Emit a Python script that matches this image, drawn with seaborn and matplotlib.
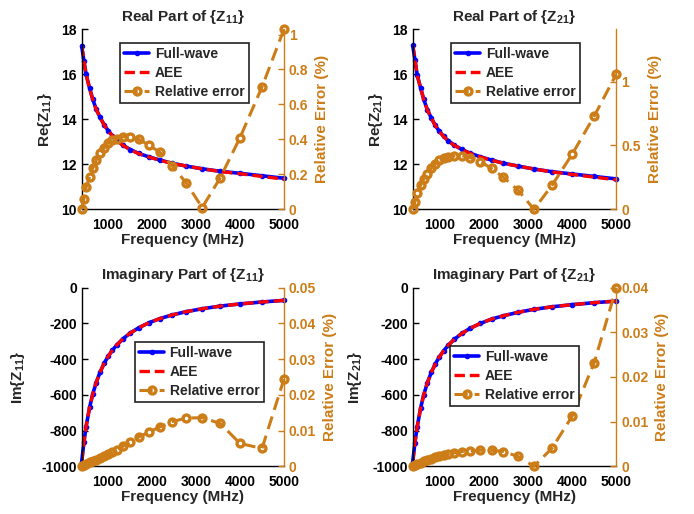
import matplotlib
matplotlib.use("Agg")
import matplotlib.pyplot as plt
import seaborn as sns
from matplotlib.ticker import FuncFormatter
from matplotlib.lines import Line2D

# ---------------- data ----------------
freq = [400, 450, 500, 580, 650, 730, 820, 910, 1000, 1100, 1200, 1340, 1510,
        1700, 1930, 2180, 2450, 2780, 3140, 3550, 4000, 4500, 5000]

re_z11_fw = [17.26, 16.60, 16.00, 15.38, 14.90, 14.45, 14.08, 13.76, 13.50, 13.27,
             13.07, 12.85, 12.65, 12.48, 12.33, 12.19, 12.05, 11.92, 11.80, 11.69,
             11.60, 11.49, 11.38]
re_z11_aee = [17.26, 16.59, 15.99, 15.37, 14.89, 14.44, 14.07, 13.75, 13.49, 13.26,
              13.06, 12.84, 12.64, 12.47, 12.32, 12.18, 12.04, 11.92, 11.80, 11.68,
              11.58, 11.46, 11.34]
re_z11_err = [0.0, 0.06, 0.125, 0.185, 0.235, 0.28, 0.32, 0.35, 0.38, 0.396, 0.405,
              0.415, 0.415, 0.40, 0.367, 0.326, 0.25, 0.15, 0.01, 0.18, 0.41, 0.70, 1.03]

re_z21_fw = [17.28, 16.65, 15.98, 15.38, 14.88, 14.43, 14.06, 13.73, 13.47, 13.24,
             13.05, 12.85, 12.66, 12.49, 12.33, 12.19, 12.05, 11.92, 11.79, 11.67,
             11.57, 11.46, 11.35]
re_z21_aee = [17.28, 16.64, 15.97, 15.37, 14.87, 14.42, 14.05, 13.72, 13.46, 13.23,
              13.04, 12.84, 12.65, 12.48, 12.32, 12.18, 12.04, 11.92, 11.79, 11.66,
              11.55, 11.43, 11.31]
re_z21_err = [0.0, 0.06, 0.125, 0.19, 0.235, 0.28, 0.32, 0.355, 0.385, 0.40, 0.41,
              0.417, 0.42, 0.404, 0.373, 0.32, 0.25, 0.15, 0.0, 0.19, 0.43, 0.73, 1.06]

im_z11_fw = [-975, -866, -778, -670, -597, -531, -472, -424, -385, -350, -320, -286,
             -253, -224, -196, -173, -153, -134, -118, -103, -91, -80, -71]
im_z11_aee = [-975, -866, -778, -670, -597, -531, -472, -424, -385, -350, -320, -286,
              -253, -224, -196, -173, -153, -134, -118, -103, -91, -80, -71]
im_z11_err = [0.0, 0.0004, 0.0007, 0.0011, 0.0014, 0.0019, 0.0022, 0.0028, 0.0034,
              0.0040, 0.0047, 0.0056, 0.0068, 0.0082, 0.0096, 0.0110, 0.0125, 0.0135,
              0.0136, 0.0120, 0.0064, 0.0050, 0.0244]

im_z21_fw = [-976, -867, -780, -672, -599, -533, -474, -427, -388, -353, -323, -289,
             -256, -227, -200, -176, -157, -138, -121, -107, -95, -84, -75]
im_z21_aee = [-976, -867, -780, -672, -599, -533, -474, -427, -388, -353, -323, -289,
              -256, -227, -200, -176, -157, -138, -121, -107, -95, -84, -75]
im_z21_err = [0.0, 0.0002, 0.0005, 0.0008, 0.0011, 0.0014, 0.0017, 0.0020, 0.0022,
              0.0025, 0.0027, 0.0030, 0.0033, 0.0034, 0.0036, 0.0036, 0.0033, 0.0022,
              0.0, 0.0041, 0.0112, 0.0232, 0.0400]

titles = ["Real Part of {Z$_{11}$}", "Real Part of {Z$_{21}$}",
          "Imaginary Part of {Z$_{11}$}", "Imaginary Part of {Z$_{21}$}"]
ylabels = ["Re{Z$_{11}$}", "Re{Z$_{21}$}", "Im{Z$_{11}$}", "Im{Z$_{21}$}"]
legend_labels = ["Full-wave", "AEE", "Relative error"]
x_ticks = [1000, 2000, 3000, 4000, 5000]
left_ticks = [[10, 12, 14, 16, 18], [10, 12, 14, 16, 18],
              [-1000, -800, -600, -400, -200, 0], [-1000, -800, -600, -400, -200, 0]]
right_ticks = [[0, 0.2, 0.4, 0.6, 0.8, 1], [0, 0.5, 1],
               [0, 0.01, 0.02, 0.03, 0.04, 0.05], [0, 0.01, 0.02, 0.03, 0.04]]
left_lims = [(10, 18), (10, 18), (-1000, 0), (-1000, 0)]
right_lims = [(0, 1.03), (0, 1.41), (0, 0.05), (0, 0.04)]

panels = [(re_z11_fw, re_z11_aee, re_z11_err), (re_z21_fw, re_z21_aee, re_z21_err),
          (im_z11_fw, im_z11_aee, im_z11_err), (im_z21_fw, im_z21_aee, im_z21_err)]

# ---------------- style ----------------
sns.set_style("white")
plt.rcParams["font.family"] = ["Liberation Sans", "DejaVu Sans"]
plt.rcParams.update({
    "font.weight": "bold",
    "axes.labelweight": "bold",
    "axes.titleweight": "bold",
    "mathtext.fontset": "custom",
    "mathtext.rm": "Liberation Sans:bold",
    "mathtext.bf": "Liberation Sans:bold",
    "mathtext.it": "Liberation Sans:bold:italic",
    "mathtext.default": "rm",
    "axes.unicode_minus": False,
    "lines.scale_dashes": False,
})

ORANGE = "#CC7D18"
fig = plt.figure(figsize=(6.94, 5.14), dpi=100)
positions = [[0.1177, 0.5928, 0.2915, 0.3502], [0.5947, 0.5928, 0.2934, 0.3502],
             [0.1177, 0.0928, 0.2915, 0.3475], [0.5947, 0.0928, 0.2934, 0.3475]]
legend_anchor = [(0.19, 0.925), (0.188, 0.925), (0.263, 0.696), (0.183, 0.674)]
ylabel_pads = [5, 5, 10, 6]

fmt = FuncFormatter(lambda v, p: f"{v:g}")

FW_KW = dict(color="blue", linewidth=2.6, marker="o", markersize=3.2,
             markerfacecolor="blue", markeredgecolor="blue", markeredgewidth=0.8)
ERR_KW = dict(color=ORANGE, linewidth=2.2, marker="o", markersize=5,
              markerfacecolor="none", markeredgecolor=ORANGE, markeredgewidth=2.4)

for i in range(4):
    fw, aee, err = panels[i]
    ax = fig.add_axes(positions[i])
    tw = ax.twinx()

    sns.lineplot(x=freq, y=fw, ax=ax, estimator=None, sort=False, legend=False,
                 clip_on=False, **FW_KW)
    sns.lineplot(x=freq, y=aee, ax=ax, color="red", linewidth=2.4,
                 estimator=None, sort=False, legend=False)
    ax.lines[-1].set_dashes((7.5, 3.5))
    sns.lineplot(x=freq, y=err, ax=tw, estimator=None, sort=False, legend=False,
                 clip_on=False, **ERR_KW)
    tw.lines[-1].set_dashes((9.5, 5.0))

    ax.set_xlim(400, 5000)
    ax.set_ylim(*left_lims[i])
    tw.set_ylim(*right_lims[i])
    ax.set_xticks(x_ticks)
    ax.set_yticks(left_ticks[i])
    tw.set_yticks(right_ticks[i])
    ax.yaxis.set_major_formatter(fmt)
    tw.yaxis.set_major_formatter(fmt)

    ax.set_title(titles[i], fontsize=11, pad=6)
    ax.set_xlabel("Frequency (MHz)", fontsize=11, labelpad=1)
    ax.set_ylabel(ylabels[i], fontsize=11, labelpad=ylabel_pads[i])
    tw.set_ylabel("Relative Error (%)", fontsize=11, color=ORANGE, labelpad=5)

    for s in ["top", "right"]:
        ax.spines[s].set_visible(False)
    for s in ["top", "left", "bottom"]:
        tw.spines[s].set_visible(False)
    for s in ["left", "bottom"]:
        ax.spines[s].set_color("black")
        ax.spines[s].set_linewidth(1.0)
    tw.spines["right"].set_color(ORANGE)
    tw.spines["right"].set_linewidth(1.0)
    ax.tick_params(direction="in", length=4, width=1, labelsize=10, colors="black")
    ax.tick_params(axis="x", pad=6)
    tw.tick_params(direction="in", length=4, width=1, labelsize=10, colors=ORANGE)

    handles = [Line2D([], [], **FW_KW),
               Line2D([], [], color="red", lw=2.4, dashes=(7.5, 3.5)),
               Line2D([], [], dashes=(9.5, 5.0), **ERR_KW)]
    leg = tw.legend(handles, legend_labels, loc="upper left",
                    bbox_to_anchor=legend_anchor[i], fontsize=10, frameon=True,
                    fancybox=False, framealpha=1, edgecolor="#222222",
                    borderpad=0.3, labelspacing=0.35, handlelength=1.8,
                    handletextpad=0.4, borderaxespad=0)
    leg.get_frame().set_linewidth(1.2)

fig.savefig("out.png", dpi=100)
